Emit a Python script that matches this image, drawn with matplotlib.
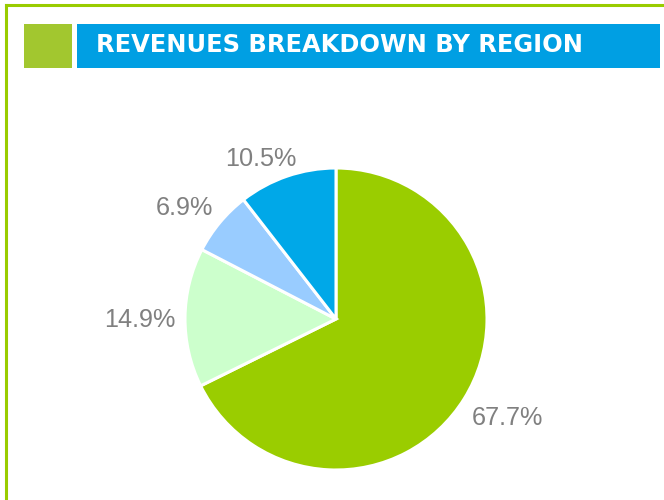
import numpy as np
import matplotlib
matplotlib.use("Agg")
import matplotlib.pyplot as plt
from matplotlib.patches import Rectangle
from matplotlib.lines import Line2D

title = "REVENUES BREAKDOWN BY REGION"
shares = [67.7, 14.9, 6.9, 10.5]
labels = ["67.7%", "14.9%", "6.9%", "10.5%"]
colors = ["#9ACD00", "#CCFFCC", "#99CCFF", "#00A8E8"]

W, H = 664, 500
fig = plt.figure(figsize=(W / 100, H / 100), dpi=100)
fig.patch.set_facecolor("white")

def fx(px):
    return px / W

def fy(py):
    return 1 - py / H

# green border (top and left)
fig.add_artist(Line2D([fx(6), 1.0], [fy(5), fy(5)], color="#99CC00", lw=2.2, transform=fig.transFigure))
fig.add_artist(Line2D([fx(6), fx(6)], [fy(5), 0], color="#99CC00", lw=2.2, transform=fig.transFigure))

# title bar
fig.add_artist(Rectangle((fx(24), fy(68)), fx(72) - fx(24), fy(24) - fy(68),
                         facecolor="#A2C72F", edgecolor="none", transform=fig.transFigure))
fig.add_artist(Rectangle((fx(77), fy(68)), fx(660) - fx(77), fy(24) - fy(68),
                         facecolor="#009FE3", edgecolor="none", transform=fig.transFigure))
fig.text(fx(96.5), fy(45.5), title, color="white", fontsize=17.4, fontweight="bold",
         family="DejaVu Sans", va="center", ha="left")

# pie
cx, cy, r = 336, 319, 151
ax = fig.add_axes([fx(cx - r), fy(cy + r), (2 * r) / W, (2 * r) / H])
wedges, _ = ax.pie(shares, colors=colors, startangle=90, counterclock=False,
                   wedgeprops=dict(edgecolor="white", linewidth=2.2))
ax.set_xlim(-1, 1)
ax.set_ylim(-1, 1)
ax.set_aspect("equal")
ax.axis("off")

# outside-end labels: nearest bbox corner sits on the wedge's mid ray
renderer = fig.canvas.get_renderer()
R = 1.06
px_per_unit = r
for w, lab in zip(wedges, labels):
    th = np.deg2rad((w.theta1 + w.theta2) / 2)
    c, s = np.cos(th), np.sin(th)
    px, py = R * c, R * s
    t = ax.text(px, py, lab, color="#808080", fontsize=18.2, family="Liberation Sans",
                ha="center", va="center", clip_on=False)
    bb = t.get_window_extent(renderer)
    wd = bb.width / px_per_unit
    hd = bb.height / px_per_unit
    kx = np.sign(c) * min(1.0, abs(c) / 0.5)
    ky = np.sign(s) * min(1.0, abs(s) / 0.5)
    t.set_position((px + kx * wd / 2, py + ky * hd / 2 - 3.0 / px_per_unit))

fig.savefig("out.png", dpi=100, facecolor="white")
